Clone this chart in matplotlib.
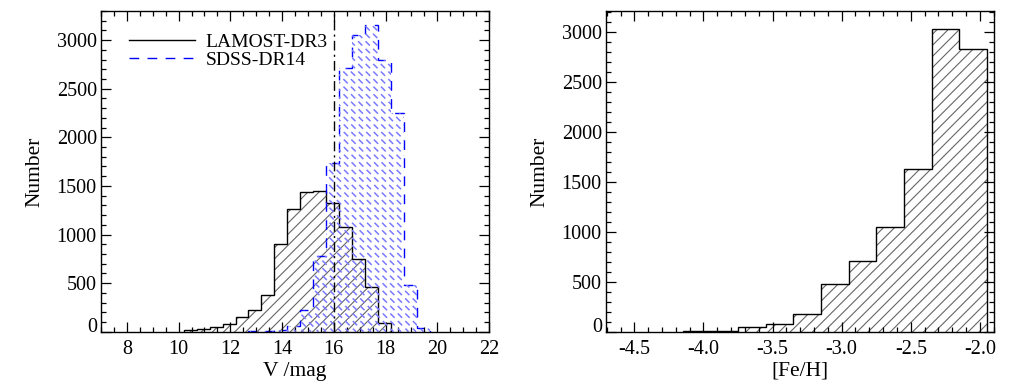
import numpy as np
import matplotlib
matplotlib.use("Agg")
import matplotlib.pyplot as plt
from matplotlib.collections import LineCollection
from matplotlib.ticker import MultipleLocator

plt.rcParams['font.family'] = 'serif'
plt.rcParams['font.serif'] = ['Liberation Serif', 'DejaVu Serif']
plt.rcParams['axes.unicode_minus'] = False
plt.rcParams['hatch.linewidth'] = 0.8

# V magnitude histograms (bin width 0.5 mag)
lamost_edges = np.arange(10.2, 18.21, 0.5)
lamost_counts = [14, 24, 48, 76, 151, 223, 377, 902, 1259, 1440, 1450, 1327,
                 1080, 748, 463, 93]
sdss_edges = np.arange(12.7, 19.71, 0.5)
sdss_counts = [12, 5, 15, 62, 223, 779, 1732, 2709, 3055, 3158, 2800, 2246,
               480, 41]
v_cut = 16.0

# [Fe/H] histogram (bin width 0.2 dex)
feh_edges = np.arange(-4.15, -1.949, 0.2)
feh_counts = [8, 10, 45, 75, 175, 475, 705, 1050, 1630, 3030, 2830]

W, H = 1009, 392
fig = plt.figure(figsize=(W / 100, H / 100), dpi=100)
ax1 = fig.add_axes([101 / W, 1 - 331.7 / H, 388 / W, 320.7 / H])
ax2 = fig.add_axes([606 / W, 1 - 331.7 / H, 388 / W, 320.7 / H])

# left panel: LAMOST (black, ///) and SDSS (blue dashed, dashed \\\ fill)
ax1.stairs(lamost_counts, lamost_edges, fill=True, facecolor='none',
           edgecolor='0.4', linewidth=0, hatch='///')
ax1.stairs(lamost_counts, lamost_edges, color='black', linewidth=1.0)

sdss_patch = ax1.stairs(sdss_counts, sdss_edges, fill=True, facecolor='none',
                        edgecolor='none', linewidth=0)
# dashed diagonal fill lines, clipped to the SDSS histogram
wpx, hpx = 388.0, 320.7
x0s = np.arange(-hpx, wpx + 8, 7.5)
segs = [[(x0 / wpx, 1.0), ((x0 + hpx) / wpx, 0.0)] for x0 in x0s]
lc = LineCollection(segs, colors='#7a7aff', linewidths=1.1,
                    linestyles=[(0, (4, 3))], transform=ax1.transAxes)
ax1.add_collection(lc)
lc.set_clip_path(sdss_patch)
ax1.stairs(sdss_counts, sdss_edges, color='blue', linewidth=1.0,
           linestyle=(0, (7, 6)))

ax1.axvline(v_cut, color='black', linewidth=1.0, linestyle=(0, (7, 3, 1.5, 3)))

ax1.plot([], [], color='black', linewidth=1.0, label='LAMOST-DR3')
ax1.plot([], [], color='blue', linewidth=1.0, linestyle=(0, (7, 6)),
         label='SDSS-DR14')
ax1.legend(loc='upper left', bbox_to_anchor=(0.072, 0.93), frameon=False,
           fontsize=14, handlelength=3.4, handletextpad=0.55,
           labelspacing=0.02, borderpad=0, borderaxespad=0)

ax1.set_xlim(7, 22)
ax1.set_ylim(0, 3300)
ax1.xaxis.set_major_locator(MultipleLocator(2))
ax1.xaxis.set_minor_locator(MultipleLocator(0.5))
ax1.set_xlabel('V /mag', fontsize=15.5, labelpad=2)

# right panel: [Fe/H]
ax2.stairs(feh_counts, feh_edges, fill=True, facecolor='none',
           edgecolor='0.4', linewidth=0, hatch='///')
ax2.stairs(feh_counts, feh_edges, color='black', linewidth=1.0)
ax2.set_xlim(-4.705, -1.898)
ax2.set_ylim(0, 3207)
ax2.xaxis.set_major_locator(MultipleLocator(0.5))
ax2.xaxis.set_minor_locator(MultipleLocator(0.1))
ax2.set_xlabel('[Fe/H]', fontsize=15.5, labelpad=2)

for ax in (ax1, ax2):
    ax.set_yticks(np.arange(0, 3001, 500))
    ax.yaxis.set_minor_locator(MultipleLocator(100))
    ax.set_ylabel('Number', fontsize=15.5, labelpad=9)
    ax.tick_params(which='both', direction='in', top=True, right=True,
                   labelsize=14.5, width=0.9)
    ax.tick_params(axis='x', pad=6)
    ax.tick_params(axis='y', pad=3)
    ax.tick_params(which='major', length=7.5)
    ax.tick_params(which='minor', length=3.5)
    for s in ax.spines.values():
        s.set_linewidth(1.0)
    ax.get_yticklabels()[0].set_verticalalignment('baseline')

fig.savefig('out.png', dpi=100)
